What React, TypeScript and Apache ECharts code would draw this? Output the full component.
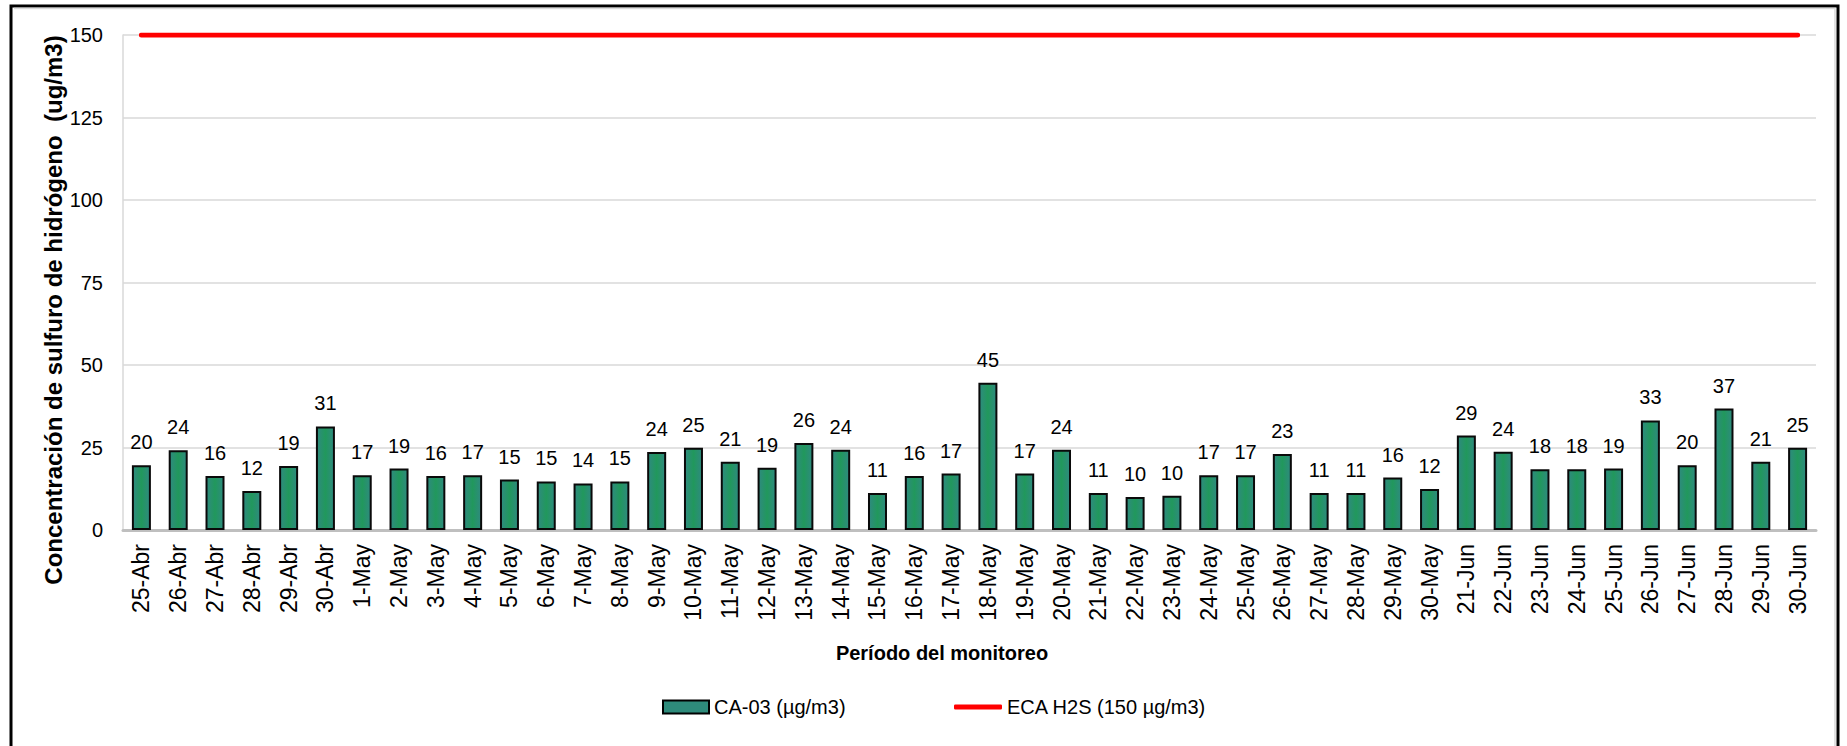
import React, { useEffect, useRef } from "react";
import * as echarts from "echarts";

const categories = [
  "25-Abr", "26-Abr", "27-Abr", "28-Abr", "29-Abr", "30-Abr",
  "1-May", "2-May", "3-May", "4-May", "5-May", "6-May", "7-May", "8-May", "9-May", "10-May",
  "11-May", "12-May", "13-May", "14-May", "15-May", "16-May", "17-May", "18-May", "19-May", "20-May",
  "21-May", "22-May", "23-May", "24-May", "25-May", "26-May", "27-May", "28-May", "29-May", "30-May",
  "21-Jun", "22-Jun", "23-Jun", "24-Jun", "25-Jun", "26-Jun", "27-Jun", "28-Jun", "29-Jun", "30-Jun",
];

const ca03Values = [
  19.6, 24.2, 16.4, 11.8, 19.4, 31.4,
  16.6, 18.6, 16.4, 16.6, 15.3, 14.7, 14.1, 14.7, 23.6, 24.9,
  20.7, 18.9, 26.4, 24.3, 11.2, 16.4, 17.1, 44.6, 17.1, 24.3,
  11.2, 10.0, 10.4, 16.6, 16.6, 23.0, 11.2, 11.2, 15.9, 12.4,
  28.6, 23.7, 18.4, 18.4, 18.6, 33.2, 19.6, 36.8, 20.7, 24.9,
];

const ecaValues = [
  150, 150, 150, 150, 150, 150,
  150, 150, 150, 150, 150, 150, 150, 150, 150, 150,
  150, 150, 150, 150, 150, 150, 150, 150, 150, 150,
  150, 150, 150, 150, 150, 150, 150, 150, 150, 150,
  150, 150, 150, 150, 150, 150, 150, 150, 150, 150,
];

const yTicks = { min: 0, max: 150, interval: 25 };

const seriesNames = ["CA-03 (µg/m3)", "ECA H2S (150 µg/m3)"];
const yTitle = "Concentración de sulfuro de hidrógeno  (ug/m3)";
const xTitle = "Período del monitoreo";

const FONT = "'Liberation Sans', Arial, Helvetica, sans-serif";

export default function App() {
  const ref = useRef<HTMLDivElement>(null);

  useEffect(() => {
    if (!ref.current) return;
    const chart = echarts.init(ref.current, undefined, { renderer: "svg" });

    const barGradient = new echarts.graphic.LinearGradient(0, 0, 1, 0, [
      { offset: 0, color: "#2f8a80" },
      { offset: 0.5, color: "#21985c" },
      { offset: 1, color: "#2f8a80" },
    ]);

    const legendText = { fontSize: 20, color: "#000", fontFamily: FONT };

    chart.setOption({
      animation: false,
      backgroundColor: "#ffffff",
      textStyle: { fontFamily: FONT },
      grid: { left: 123, right: 31, top: 35, bottom: 216, containLabel: false },
      legend: [
        {
          left: 657,
          top: 692,
          itemWidth: 46,
          itemHeight: 13,
          textStyle: legendText,
          data: [
            {
              name: seriesNames[0],
              icon: "rect",
              itemStyle: { color: "#2e8b7b", borderColor: "#000", borderWidth: 2 },
            },
          ],
        },
        {
          left: 949,
          top: 692,
          itemWidth: 48,
          itemHeight: 5,
          textStyle: legendText,
          data: [
            {
              name: seriesNames[1],
              icon: "roundRect",
              itemStyle: { color: "#ff0000", borderWidth: 0 },
            },
          ],
        },
      ],
      graphic: [
        {
          type: "rect",
          silent: true,
          shape: { x: 11, y: 6, width: 1827, height: 780 },
          style: { fill: "none", stroke: "#000", lineWidth: 3 },
        },
        {
          type: "polyline",
          silent: true,
          shape: { points: [[14, 8.5], [1835, 8.5], [1835, 746]] },
          style: { fill: "none", stroke: "#d9d9d9", lineWidth: 1.5 },
        },
        {
          type: "text",
          x: 53,
          y: 310,
          rotation: Math.PI / 2,
          style: {
            text: yTitle,
            font: `bold 24px ${FONT}`,
            fill: "#000",
            textAlign: "center",
            textVerticalAlign: "middle",
          },
        },
        {
          type: "text",
          x: 942,
          y: 653,
          style: {
            text: xTitle,
            font: `bold 20px ${FONT}`,
            fill: "#000",
            textAlign: "center",
            textVerticalAlign: "middle",
          },
        },
      ],
      xAxis: {
        type: "category",
        data: categories,
        boundaryGap: true,
        axisTick: { show: false },
        axisLine: { show: true, lineStyle: { color: "#bfbfbf", width: 3 } },
        axisLabel: {
          rotate: 90,
          interval: 0,
          margin: 14,
          fontSize: 23,
          color: "#000",
          fontFamily: FONT,
        },
        splitLine: { show: false },
      },
      yAxis: {
        type: "value",
        min: yTicks.min,
        max: yTicks.max,
        interval: yTicks.interval,
        axisLine: { show: true, lineStyle: { color: "#d9d9d9", width: 1.5 } },
        axisTick: { show: false },
        axisLabel: { fontSize: 20, color: "#000", margin: 20, fontFamily: FONT },
        splitLine: { show: true, lineStyle: { color: "#d9d9d9", width: 1.5 } },
      },
      series: [
        {
          name: seriesNames[0],
          type: "bar",
          data: ca03Values,
          barWidth: 19,
          itemStyle: { color: barGradient, borderColor: "#0a0a0a", borderWidth: 2 },
          label: {
            show: true,
            position: "top",
            distance: 13,
            fontSize: 20,
            color: "#000",
            fontFamily: FONT,
            formatter: (p: any) => String(Math.round(p.value)),
          },
          z: 2,
        },
        {
          name: seriesNames[1],
          type: "line",
          data: ecaValues,
          symbol: "none",
          lineStyle: { color: "#ff0000", width: 5, cap: "round" },
          itemStyle: { color: "#ff0000" },
          z: 3,
        },
      ],
    });

    return () => chart.dispose();
  }, []);

  return (
    <div
      ref={ref}
      style={{ position: "absolute", left: 0, top: 0, width: 1847, height: 746 }}
    />
  );
}
